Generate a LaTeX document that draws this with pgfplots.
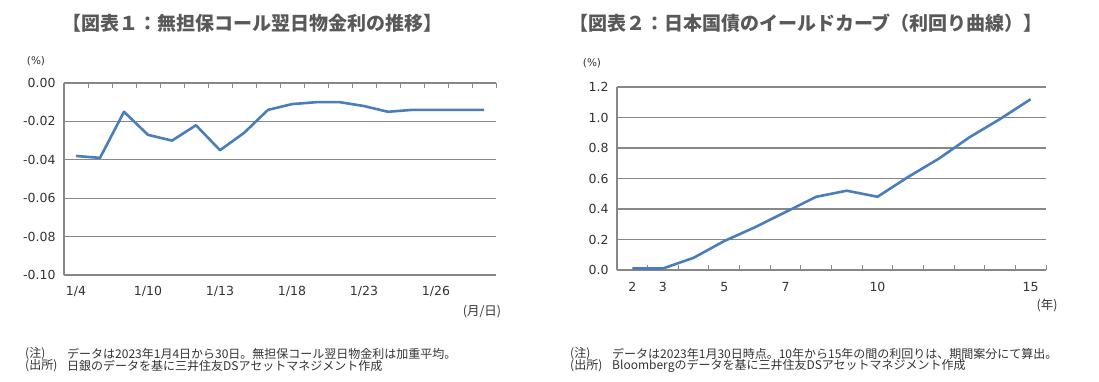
\documentclass[border=0pt]{standalone}
\usepackage{pgfplots}
\pgfplotsset{compat=1.18}
\usepackage{fontspec}
\setmainfont{DejaVu Sans}
\newfontfamily\jp{Noto Sans CJK JP}
\definecolor{linec}{HTML}{4A7EBB}
\definecolor{gridc}{HTML}{878787}
\definecolor{titlec}{HTML}{595959}
\definecolor{txt}{HTML}{333333}
\pgfplotsset{
  mystyle/.style={
    scale only axis, anchor=south west, clip=false,
    axis line style={draw=none}, separate axis lines,
    ymajorgrids, grid style={gridc, line width=1.2pt},
    ytick pos=left,
    xtick pos=right, xticklabel pos=left,
    tick align=inside,
    xtick style={gridc, line width=1pt, /pgfplots/major tick length=5pt},
    ytick style={/pgfplots/major tick length=0pt},
    tick label style={font=\fontsize{12.5}{14}\selectfont, text=txt},
    yticklabel style={xshift=-5pt},
  }
}
\begin{document}
\begin{tikzpicture}
\path (0pt,0pt) rectangle (1099pt,381pt);
% ---------- Chart 1 ----------
\begin{axis}[mystyle,
  at={(64pt,106pt)}, width=432pt, height=192pt,
  xmin=-0.5, xmax=17.5, ymin=-0.1, ymax=0,
  ytick={-0.1,-0.08,-0.06,-0.04,-0.02,0},
  yticklabels={-0.10,-0.08,-0.06,-0.04,-0.02,0.00},
  xtick={-0.5,0.5,...,17.5},
  xticklabels={1/4,,,1/10,,,1/13,,,1/18,,,1/23,,,1/26,,,},
  xticklabel style={xshift=12pt, yshift=-8pt},
]
\draw[gridc, line width=1.2pt] (rel axis cs:0,0) -- (rel axis cs:0,1);
\pgfplotsinvokeforeach{0.5,1.5,2.5,3.5,4.5,5.5,6.5,7.5,8.5,9.5,10.5,11.5,12.5,13.5,14.5,15.5,16.5,17.5}{
  \draw[gridc, line width=1pt] (axis cs:#1,0) -- ++(0pt,-5pt);
}
\addplot[linec, line width=2.6pt, line join=round] coordinates {
(0,-0.038)(1,-0.039)(2,-0.015)(3,-0.027)(4,-0.030)(5,-0.022)(6,-0.035)(7,-0.026)(8,-0.014)
(9,-0.011)(10,-0.010)(11,-0.010)(12,-0.012)(13,-0.015)(14,-0.014)(15,-0.014)(16,-0.014)(17,-0.014)};
\end{axis}
% ---------- Chart 2 ----------
\begin{axis}[mystyle,
  at={(617pt,111pt)}, width=429pt, height=183pt,
  xmin=1.5, xmax=15.5, ymin=0, ymax=1.2,
  ytick={0,0.2,0.4,0.6,0.8,1.0,1.2},
  yticklabels={0.0,0.2,0.4,0.6,0.8,1.0,1.2},
  xtick={1.5,2.5,...,15.5},
  xticklabels={2,3,,5,,7,,,10,,,,,15,},
  xtick pos=left,
  xticklabel style={xshift=15.3pt, yshift=-9pt},
]
\draw[gridc, line width=1.2pt] (rel axis cs:0,0) -- (rel axis cs:0,1);
\pgfplotsinvokeforeach{2.5,3.5,4.5,5.5,6.5,7.5,8.5,9.5,10.5,11.5,12.5,13.5,14.5,15.5}{
  \draw[gridc, line width=1pt] (axis cs:#1,0) -- ++(0pt,5pt);
}
\addplot[linec, line width=2.6pt, line join=round] coordinates {
(2,0.01)(3,0.01)(4,0.08)(5,0.19)(6,0.28)(7,0.38)(8,0.48)(9,0.52)(10,0.48)
(11,0.61)(12,0.73)(13,0.87)(14,0.99)(15,1.12)};
\end{axis}
% ---------- titles ----------
\node[font=\jp\bfseries\fontsize{19}{20}\selectfont, text=titlec] at (252pt,358pt) {【図表１：無担保コール翌日物金利の推移】};
\node[font=\jp\bfseries\fontsize{19}{20}\selectfont, text=titlec] at (806pt,358pt) {【図表２：日本国債のイールドカーブ（利回り曲線）】};
% ---------- unit labels ----------
\node[font=\fontsize{10.5}{12}\selectfont, text=txt] at (36pt,320pt) {(\%)};
\node[font=\fontsize{10.5}{12}\selectfont, text=txt] at (592pt,318pt) {(\%)};
\node[font=\jp\fontsize{12.5}{14}\selectfont, text=txt] at (482pt,69pt) {(月/日)};
\node[font=\jp\fontsize{12.5}{14}\selectfont, text=txt] at (1047pt,76pt) {(年)};
% ---------- notes ----------
\begin{scope}[every node/.style={font=\jp\fontsize{12}{13}\selectfont, text=txt, anchor=west, inner sep=0pt}]
\node at (25pt,27pt) {(注)};
\node at (67pt,27pt) {データは2023年1月4日から30日。無担保コール翌日物金利は加重平均。};
\node at (25pt,15pt) {(出所)};
\node at (67pt,15pt) {日銀のデータを基に三井住友DSアセットマネジメント作成};
\node at (570pt,27pt) {(注)};
\node at (612pt,27pt) {データは2023年1月30日時点。10年から15年の間の利回りは、期間案分にて算出。};
\node at (570pt,15pt) {(出所)};
\node at (612pt,15pt) {Bloombergのデータを基に三井住友DSアセットマネジメント作成};
\end{scope}
\end{tikzpicture}
\end{document}
